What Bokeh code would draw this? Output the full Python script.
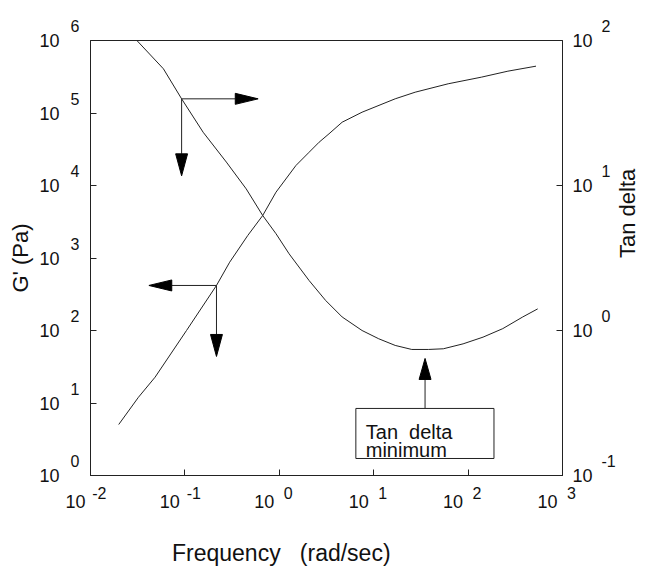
import math
from bokeh.plotting import figure
from bokeh.models import (Range1d, LogScale, LinearScale, LogAxis, LinearAxis,
                          FixedTicker, Label, BoxAnnotation, CustomJSTickFormatter)
from bokeh.embed import file_html
from bokeh.resources import INLINE

# ---------------- data ----------------
gp_freq = [0.0199, 0.0322, 0.0483, 0.104, 0.216, 0.298, 0.463, 0.667, 0.923,
           1.50, 2.07, 2.64, 3.36, 4.63, 7.53, 16.9, 27.5, 61.5, 138, 264, 524]
gp_mod = [5.05, 12.0, 22.7, 100, 418, 875, 2042, 3855, 8091,
          18880, 28770, 39540, 51640, 74650, 102600, 157000, 193600, 252900,
          311900, 377600, 442600]

tan_freq = [0.0310, 0.0592, 0.0923, 0.156, 0.275, 0.446, 0.667, 0.923, 1.27,
            2.07, 3.10, 4.63, 7.53, 11.3, 16.9, 25.3, 37.9, 54.6, 88.5, 144,
            233, 379, 546]
tan_val = [100, 63.8, 39.6, 23.3, 14.5, 9.48, 6.21, 4.65, 3.38,
           2.21, 1.61, 1.24, 1.00, 0.877, 0.789, 0.740, 0.740, 0.748, 0.809,
           0.900, 1.03, 1.24, 1.41]

x_ticks = [1e-2, 1e-1, 1e0, 1e1, 1e2, 1e3]
x_exps = ["-2", "-1", "0", "1", "2", "3"]
g_ticks = [1e0, 1e1, 1e2, 1e3, 1e4, 1e5, 1e6]
g_exps = ["0", "1", "2", "3", "4", "5", "6"]
tan_ticks = [1e-1, 1e0, 1e1, 1e2]
tan_exps = ["-1", "0", "1", "2"]
BASE_TEXT = "10"

X_TITLE = "Frequency \u00a0 (rad/sec)"
G_TITLE = "G' (Pa)"
TAN_TITLE = "Tan delta"
NOTE_LINES = ["Tan\u00a0 delta", "minimum"]

X_RANGE = (1e-2, 1e3)
G_RANGE = (1e0, 1e6)
TAN_RANGE = (1e-1, 1e2)

# ---------------- layout ----------------
W, H = 655, 568
BL, BT = 90, 40
FW, FH = 475, 435
BR = W - BL - FW
BB = H - BT - FH
X_PX = FW / math.log10(X_RANGE[1] / X_RANGE[0])
G_PX = FH / math.log10(G_RANGE[1] / G_RANGE[0])
T_PX = FH / math.log10(TAN_RANGE[1] / TAN_RANGE[0])

LINE = "#222222"
TEXT = "#111111"
FONT = "Liberation Sans"
BASE_FS = "18px"
EXP_FS = "16px"
FIG_SP = "\u2007"   # figure space: pads a tick label sideways

p = figure(width=W, height=H, x_axis_type="log", y_axis_type="log",
           x_range=Range1d(*X_RANGE), y_range=Range1d(*G_RANGE),
           output_backend="svg", toolbar_location=None,
           min_border_left=BL, min_border_right=BR,
           min_border_top=BT, min_border_bottom=BB)
p.grid.visible = False
p.outline_line_color = LINE
p.outline_line_width = 1
p.background_fill_color = "white"
p.border_fill_color = "white"

p.extra_x_ranges = {"x_title": Range1d(0, FW)}
p.extra_x_scales = {"x_title": LinearScale()}
p.extra_y_ranges = {"tan": Range1d(*TAN_RANGE)}
p.extra_y_scales = {"tan": LogScale()}

blank = CustomJSTickFormatter(code="return ''")


def style_main(ax, ticks):
    ax.ticker = FixedTicker(ticks=ticks, minor_ticks=[])
    ax.major_tick_in = 6
    ax.major_tick_out = 0
    ax.minor_tick_line_color = None
    ax.axis_line_color = LINE
    ax.major_tick_line_color = LINE
    ax.major_label_text_font = FONT
    ax.major_label_text_color = TEXT


def label_axis(ax, ticks, texts, fs, standoff, line_height=1.2):
    ax.ticker = FixedTicker(ticks=ticks, minor_ticks=[])
    ax.major_label_overrides = dict(zip(ticks, texts))
    ax.axis_line_color = None
    ax.major_tick_line_color = None
    ax.minor_tick_line_color = None
    ax.major_tick_in = 0
    ax.major_tick_out = 0
    ax.major_label_standoff = standoff
    ax.major_label_text_font = FONT
    ax.major_label_text_font_size = fs
    ax.major_label_text_color = TEXT
    ax.major_label_text_line_height = line_height
    return ax


# bottom: ticks, exponents (right of tick), bases (left of tick), title
xmain = p.xaxis[0]
style_main(xmain, x_ticks)
xmain.formatter = blank
xmain.major_label_text_font_size = "0px"
xmain.major_label_standoff = 0
p.add_layout(label_axis(LogAxis(), x_ticks, [FIG_SP * 2 + e for e in x_exps],
                        EXP_FS, 9), "below")
p.add_layout(label_axis(LogAxis(), x_ticks, [BASE_TEXT + FIG_SP * 3] * len(x_ticks),
                        BASE_FS, -13), "below")
title_pos = [192]
p.add_layout(label_axis(LinearAxis(x_range_name="x_title"), title_pos, [X_TITLE],
                        "23px", 25), "below")

# left: ticks, exponents (raised), bases (+ title)
ymain = p.yaxis[0]
style_main(ymain, g_ticks)
ymain.formatter = blank
ymain.major_label_text_font_size = "0px"
ymain.major_label_standoff = 0
p.add_layout(label_axis(LogAxis(), g_ticks, [e + "\n" + FIG_SP for e in g_exps],
                        EXP_FS, 11, line_height=1.63), "left")
gbase = label_axis(LogAxis(), g_ticks, [BASE_TEXT] * len(g_ticks), BASE_FS, 8)
gbase.axis_label = G_TITLE
gbase.axis_label_standoff = 3
gbase.axis_label_text_font = FONT
gbase.axis_label_text_font_size = "22px"
gbase.axis_label_text_font_style = "normal"
gbase.axis_label_text_color = TEXT
p.add_layout(gbase, "left")

# right: ticks with bases, exponents (raised) (+ title)
tmain = LogAxis(y_range_name="tan")
style_main(tmain, tan_ticks)
tmain.major_label_overrides = dict(zip(tan_ticks, [BASE_TEXT] * len(tan_ticks)))
tmain.major_label_standoff = 10
tmain.major_label_text_font_size = BASE_FS
p.add_layout(tmain, "right")
texp = label_axis(LogAxis(y_range_name="tan"), tan_ticks,
                  [e + "\n" + FIG_SP for e in tan_exps], EXP_FS, 6, line_height=1.6)
texp.axis_label = TAN_TITLE
texp.axis_label_standoff = 9
texp.axis_label_text_font = FONT
texp.axis_label_text_font_size = "22px"
texp.axis_label_text_font_style = "normal"
texp.axis_label_text_color = TEXT
if "axis_label_orientation" in LogAxis.properties():
    texp.axis_label_orientation = math.pi / 2
p.add_layout(texp, "right")

# ---------------- curves ----------------
p.line(gp_freq, gp_mod, line_color=LINE, line_width=1)
p.line(tan_freq, tan_val, y_range_name="tan", line_color=LINE, line_width=1)


# ---------------- arrows ----------------
def xs(x, px):
    return x * 10 ** (px / X_PX)


def ys(y, px, dec):
    return y * 10 ** (-px / dec)


def arrow(ox, oy, dx, dy, dec, rname, head_len, half_w):
    # dx, dy in screen px (dy positive = downward); one of them is zero
    kw = dict(y_range_name=rname) if rname else {}
    if dy == 0:
        tip = xs(ox, dx)
        sign = 1 if dx > 0 else -1
        base = xs(ox, dx - sign * head_len)
        p.line([ox, base], [oy, oy], line_color=LINE, line_width=1, **kw)
        p.patch([tip, base, base], [oy, ys(oy, -half_w, dec), ys(oy, half_w, dec)],
                fill_color="black", line_color="black", line_width=1, **kw)
    else:
        tip = ys(oy, dy, dec)
        sign = 1 if dy > 0 else -1
        base = ys(oy, dy - sign * head_len, dec)
        p.line([ox, ox], [oy, base], line_color=LINE, line_width=1, **kw)
        p.patch([ox, xs(ox, -half_w), xs(ox, half_w)], [tip, base, base],
                fill_color="black", line_color="black", line_width=1, **kw)


# tan delta -> right axis
arrow(tan_freq[2], tan_val[2], 77, 0, T_PX, "tan", 23, 5.5)
arrow(tan_freq[2], tan_val[2], 0, 77, T_PX, "tan", 22, 6)
# G' -> left axis
arrow(gp_freq[4], gp_mod[4], -68, 0, G_PX, None, 23, 5.5)
arrow(gp_freq[4], gp_mod[4], 0, 71, G_PX, None, 22, 6)

# tan delta minimum annotation
BOX_L, BOX_R, BOX_B, BOX_T = 6.47, 188.0, 0.131, 0.290
ARROW_C_X = 35.0
tmin = min(tan_val)
tip_c = ys(tmin, 9, T_PX)
base_c = ys(tmin, 30, T_PX)
p.line([ARROW_C_X, ARROW_C_X], [BOX_T, base_c], y_range_name="tan",
       line_color=LINE, line_width=1)
p.patch([ARROW_C_X, xs(ARROW_C_X, -6), xs(ARROW_C_X, 6)], [tip_c, base_c, base_c],
        y_range_name="tan", fill_color="black", line_color="black", line_width=1)
p.add_layout(BoxAnnotation(left=BOX_L, right=BOX_R, bottom=BOX_B, top=BOX_T,
                           y_range_name="tan", fill_color="white", fill_alpha=1,
                           line_color=LINE, line_width=1, line_alpha=1))
for txt, yv in zip(NOTE_LINES, [0.198, 0.149]):
    p.add_layout(Label(x=8.24, y=yv, y_range_name="tan", text=txt,
                       text_font=FONT, text_font_size="20px", text_color=TEXT,
                       text_baseline="alphabetic", text_align="left"))

open("out.html", "w").write(file_html(p, INLINE))
